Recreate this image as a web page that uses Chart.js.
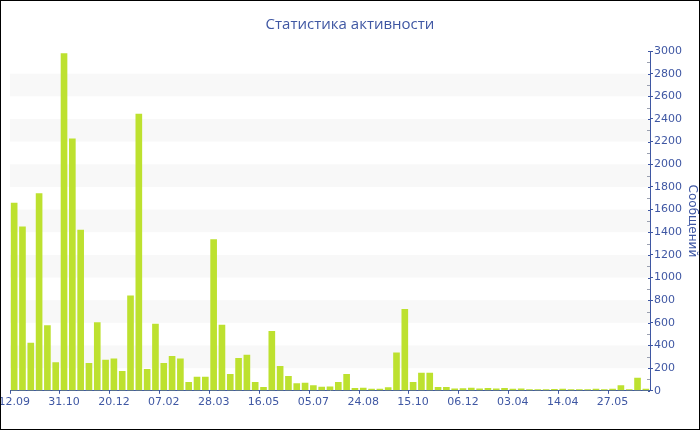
<!DOCTYPE html>
<html>
<head>
<meta charset="utf-8">
<script src="https://cdn.jsdelivr.net/npm/chart.js@4/dist/chart.umd.min.js"></script>
<style>
    html, body { margin: 0; padding: 0; background: #fff; }
    #wrap { width: 700px; height: 430px; box-sizing: border-box; border: 1px solid #000; }
</style>
</head>
<body>
<div id="wrap"><canvas id="activityChart"></canvas></div>
<script>
var tickLabels = ["12.09", "31.10", "20.12", "07.02", "28.03", "16.05", "05.07", "24.08", "15.10", "06.12", "03.04", "14.04", "27.05"];
var tickEvery = 6;

var messages = [
    1660, 1450, 425, 1745, 578, 251, 2980, 2227, 1422, 245, 605, 274,
    286, 174, 841, 2445, 192, 593, 245, 307, 286, 77, 124, 124,
    1339, 584, 148, 289, 318, 78, 33, 528, 218, 131, 67, 71,
    50, 35, 38, 77, 148, 24, 27, 18, 18, 31, 338, 723,
    77, 159, 159, 33, 34, 20, 22, 27, 20, 24, 20, 24,
    17, 20, 14, 14, 14, 15, 17, 14, 14, 14, 17, 14,
    17, 50, 14, 115, 17
];

var yTicks = { min: 0, max: 3000, step: 200 };

var blue = '#3f57a3';

var categories = messages.map(function (v, i) {
    return i % tickEvery === 0 ? (tickLabels[i / tickEvery] || '') : '';
});

// light bands every other 200 step + small ticks on the inner side of the y axis
var bandsPlugin = {
    id: 'bands',
    beforeDatasetsDraw: function (chart) {
        var ctx = chart.ctx, area = chart.chartArea, y = chart.scales.y;
        ctx.save();
        ctx.fillStyle = '#f8f8f8';
        for (var v = yTicks.min + yTicks.step; v < yTicks.max; v += yTicks.step * 2) {
            var top = y.getPixelForValue(v + yTicks.step);
            var bottom = y.getPixelForValue(v);
            ctx.fillRect(area.left, top, area.right - area.left, bottom - top);
        }
        ctx.restore();
    },
    afterDraw: function (chart) {
        var ctx = chart.ctx, area = chart.chartArea, y = chart.scales.y;
        ctx.save();
        ctx.lineWidth = 1;
        for (var v = yTicks.min; v <= yTicks.max; v += yTicks.step / 2) {
            var py = Math.round(y.getPixelForValue(v)) + 0.5;
            var major = v % yTicks.step === 0;
            ctx.strokeStyle = major ? blue : '#9aa0b0';
            ctx.beginPath();
            ctx.moveTo(area.right - (major ? 2 : 3), py);
            ctx.lineTo(area.right, py);
            ctx.stroke();
        }
        ctx.restore();
    }
};

var ctxActivity = document.getElementById('activityChart').getContext('2d');
var activityChart = new Chart(ctxActivity, {
    type: 'bar',
    data: {
        labels: categories,
        datasets: [{
            label: 'Сообщений',
            data: messages,
            backgroundColor: '#bde12f',
            borderWidth: 0,
            categoryPercentage: 1.0,
            barPercentage: 0.8
        }]
    },
    plugins: [bandsPlugin],
    options: {
        responsive: true,
        maintainAspectRatio: false,
        animation: false,
        layout: {
            padding: { left: 0, right: 0, top: 0, bottom: 18 }
        },
        plugins: {
            legend: { display: false },
            tooltip: { enabled: false },
            title: {
                display: true,
                text: 'Статистика активности',
                color: blue,
                font: { family: 'Open Sans', size: 15, weight: 'normal' },
                padding: { top: 15, bottom: 17 }
            }
        },
        scales: {
            x: {
                offset: true,
                grid: {
                    display: true,
                    drawOnChartArea: false,
                    tickLength: 3,
                    tickColor: function (c) {
                        return categories[c.index] ? blue : 'rgba(0,0,0,0)';
                    }
                },
                border: { color: blue },
                ticks: {
                    autoSkip: false,
                    maxRotation: 0,
                    padding: 2,
                    color: blue,
                    font: { family: 'DejaVu Sans', size: 11 }
                },
                // the first label is cut by the left edge, as in the original
                afterFit: function (scale) {
                    scale.paddingLeft = 9;
                    scale.paddingRight = 0;
                }
            },
            y: {
                position: 'right',
                min: yTicks.min,
                max: yTicks.max,
                grid: {
                    drawOnChartArea: false,
                    tickLength: 3,
                    tickColor: blue
                },
                border: { color: blue },
                ticks: {
                    stepSize: yTicks.step,
                    padding: 1,
                    color: blue,
                    font: { family: 'DejaVu Sans', size: 11 },
                    callback: function (v) { return String(v); }
                },
                title: {
                    display: true,
                    text: 'Сообщений',
                    color: blue,
                    font: { family: 'DejaVu Sans', size: 12 },
                    padding: { top: 0, bottom: 0 }
                },
                afterFit: function (scale) {
                    scale.width = 49;
                }
            }
        }
    }
});
</script>
</body>
</html>
